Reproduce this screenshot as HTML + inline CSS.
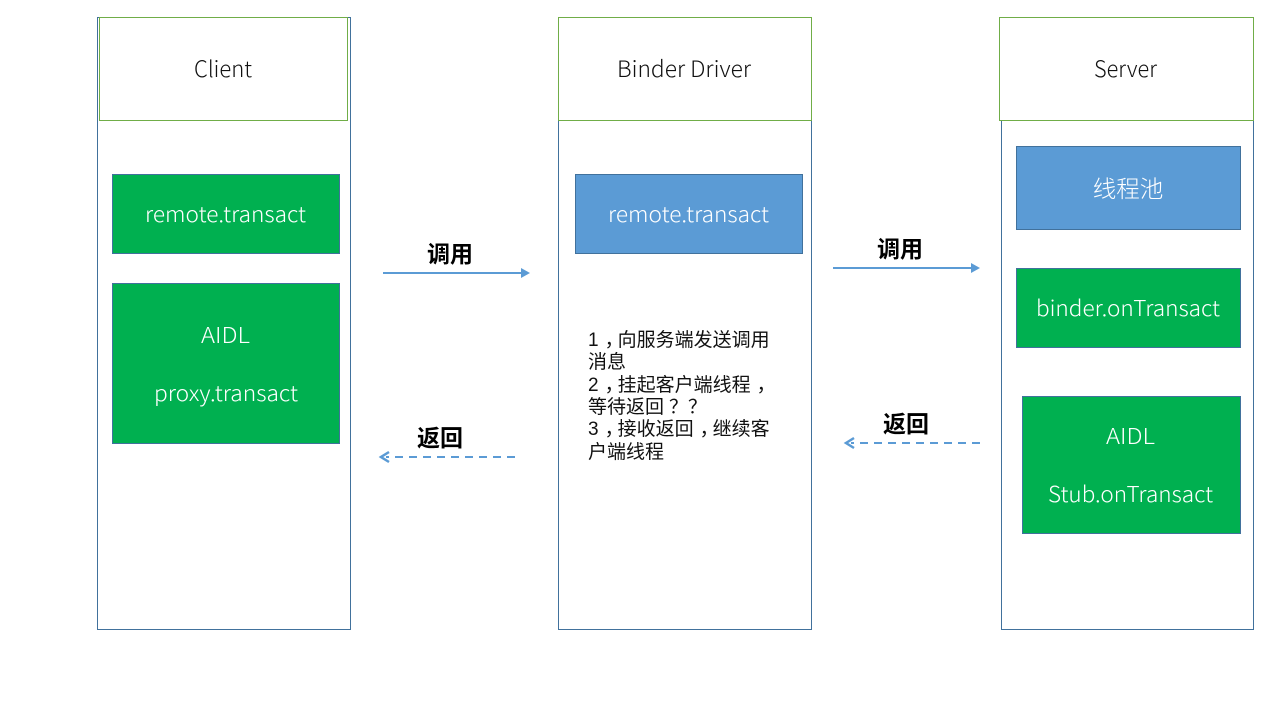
<!DOCTYPE html>
<html>
<head>
<meta charset="utf-8">
<style>
html,body{margin:0;padding:0;background:#fff}
svg{display:block}
text{font-family:"Liberation Sans","Noto Sans CJK SC",sans-serif}
.n{font-family:"Noto Sans CJK SC","Liberation Sans",sans-serif;font-weight:300}
.t{font-size:22.5px;fill:#111}
.w{font-size:22px;fill:#fff}
.b{font-size:23px;fill:#000;font-weight:bold;text-anchor:middle}
.p{font-size:19px;fill:#111}
.c{font-size:23.5px;fill:#fff;text-anchor:middle}
</style>
</head>
<body>
<svg width="1280" height="720" viewBox="0 0 1280 720" xmlns="http://www.w3.org/2000/svg">
<rect width="1280" height="720" fill="#fff"/>
<g fill="#fff" stroke="#41719c" stroke-width="1">
<rect x="97.5" y="17.5" width="253" height="612"/>
<rect x="558.5" y="17.5" width="253" height="612"/>
<rect x="1001.5" y="17.5" width="252" height="612"/>
</g>
<g fill="#fff" stroke="#70ad47" stroke-width="1">
<rect x="99.5" y="17.5" width="248" height="103"/>
<rect x="558.5" y="17.5" width="253" height="103"/>
<rect x="999.5" y="17.5" width="254" height="103"/>
</g>
<text class="t n" x="194" y="77" textLength="58" lengthAdjust="spacingAndGlyphs">Client</text>
<text class="t n" x="617" y="77" textLength="134" lengthAdjust="spacingAndGlyphs">Binder Driver</text>
<text class="t n" x="1094" y="77" textLength="63" lengthAdjust="spacingAndGlyphs">Server</text>

<g stroke="#41719c" stroke-width="1">
<rect x="112.5" y="174.5" width="227" height="79" fill="#00b050"/>
<rect x="112.5" y="283.5" width="227" height="160" fill="#00b050"/>
<rect x="575.5" y="174.5" width="227" height="79" fill="#5b9bd5"/>
<rect x="1016.5" y="146.5" width="224" height="83" fill="#5b9bd5"/>
<rect x="1016.5" y="268.5" width="224" height="79" fill="#00b050"/>
<rect x="1022.5" y="396.5" width="218" height="137" fill="#00b050"/>
</g>
<text class="w n" x="145" y="222" textLength="161" lengthAdjust="spacingAndGlyphs">remote.transact</text>
<text class="w n" x="201" y="343" textLength="49" lengthAdjust="spacingAndGlyphs">AIDL</text>
<text class="w n" x="154" y="401" textLength="144" lengthAdjust="spacingAndGlyphs">proxy.transact</text>
<text class="w n" x="608" y="222" textLength="161" lengthAdjust="spacingAndGlyphs">remote.transact</text>
<text class="c n" x="1128" y="197">线程池</text>
<text class="w n" x="1036" y="316" textLength="184" lengthAdjust="spacingAndGlyphs">binder.onTransact</text>
<text class="w n" x="1106" y="444" textLength="49" lengthAdjust="spacingAndGlyphs">AIDL</text>
<text class="w n" x="1048" y="502" textLength="165" lengthAdjust="spacingAndGlyphs">Stub.onTransact</text>

<text class="p" x="588" y="346">1<tspan dx="6">，</tspan><tspan dx="-6">向服务端发送调用</tspan></text>
<text class="p" x="588" y="368">消息</text>
<text class="p" x="588" y="391">2<tspan dx="6">，</tspan><tspan dx="-6">挂起客户端线程</tspan><tspan dx="6">，</tspan></text>
<text class="p" x="588" y="413">等待返回<tspan dx="5">？</tspan><tspan dx="0">？</tspan></text>
<text class="p" x="588" y="435">3<tspan dx="6">，</tspan><tspan dx="-6">接收返回</tspan><tspan dx="6">，</tspan><tspan dx="-6">继续客</tspan></text>
<text class="p" x="588" y="458">户端线程</text>

<g stroke="#5b9bd5" stroke-width="2" fill="none">
<line x1="383" y1="273" x2="523" y2="273"/>
<line x1="833" y1="268" x2="973" y2="268"/>
<line x1="515" y1="457" x2="386" y2="457" stroke-dasharray="8 6"/>
<line x1="980" y1="443" x2="851" y2="443" stroke-dasharray="8 6"/>
<polyline points="389,452 381,457 389,462" stroke-width="2.5"/>
<polyline points="854,438 846,443 854,448" stroke-width="2.5"/>
</g>
<polygon points="521,268 530,273 521,278" fill="#5b9bd5"/>
<polygon points="971,263 980,268 971,273" fill="#5b9bd5"/>

<text class="b" x="450" y="262">调用</text>
<text class="b" x="900" y="257">调用</text>
<text class="b" x="440" y="446">返回</text>
<text class="b" x="906" y="432">返回</text>
</svg>
</body>
</html>
